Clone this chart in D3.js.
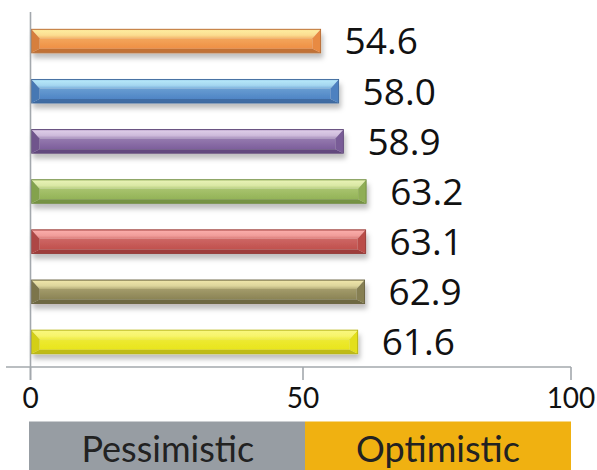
<!DOCTYPE html>
<html>
<head>
<meta charset="utf-8">
<script src="https://cdn.jsdelivr.net/npm/d3@7/dist/d3.min.js"></script>
<style>
  html, body { margin: 0; padding: 0; background: #ffffff; }
  svg { display: block; }
</style>
</head>
<body>
<svg id="chart" width="597" height="470"></svg>
<script>
// Rows of the chart, top to bottom
const categories = ["1", "2", "3", "4", "5", "6", "7"];
const values = [54.6, 58.0, 58.9, 63.2, 63.1, 62.9, 61.6];

// Bar palette: face colour, highlight, shade
const baseColors = ["#ef8f45", "#4f85c5", "#7d5f9c", "#93b357", "#c0504d", "#8a8355", "#e9e51b"];
const highlightColors = ["#fdeb9e", "#b4e6f8", "#dccbe6", "#e6f1b3", "#f9aba8", "#ece3a8", "#f9f77a"];
const shadeColors = ["#a8612c", "#375f91", "#553f6e", "#66823a", "#8a3432", "#5f5a38", "#a9a510"];

// Scale beneath the bars
const tickValues = [0, 50, 100];
const zoneLabels = ["Pessimistic", "Optimistic"];
const zoneBounds = [[0, 50], [50, 100]];
const zoneColors = ["#979da3", "#f0b111"];

const svg = d3.select("#chart");
const defs = svg.append("defs");

// soft drop shadow under each bar
const shadow = defs.append("filter").attr("id", "barShadow")
  .attr("x", "-5%").attr("y", "-30%").attr("width", "112%").attr("height", "190%");
shadow.append("feGaussianBlur").attr("in", "SourceAlpha").attr("stdDeviation", 2.6).attr("result", "b");
shadow.append("feOffset").attr("in", "b").attr("dx", 2).attr("dy", 5).attr("result", "o");
shadow.append("feFlood").attr("flood-color", "#000").attr("flood-opacity", 0.26).attr("result", "c");
shadow.append("feComposite").attr("in", "c").attr("in2", "o").attr("operator", "in").attr("result", "s");
const merge = shadow.append("feMerge");
merge.append("feMergeNode").attr("in", "s");
merge.append("feMergeNode").attr("in", "SourceGraphic");

// scales
const barX = d3.scaleLinear().domain([0, 100]).range([31.5, 561]);
const axisX = d3.scaleLinear().domain([0, 50, 100]).range([30.5, 303, 571]);
const y = d3.scaleBand().domain(categories).range([16, 367]).paddingInner(0.53).paddingOuter(0.265);

const mix = (a, b, t) => d3.interpolateRgb(a, b)(t);

// gradients for each bar
categories.forEach((c, i) => {
  const base = baseColors[i], hi = highlightColors[i];
  const top = defs.append("linearGradient").attr("id", "top" + i)
    .attr("x1", 0).attr("y1", 0).attr("x2", 0).attr("y2", 1);
  top.append("stop").attr("offset", "0%").attr("stop-color", mix(base, hi, 0.5));
  top.append("stop").attr("offset", "15%").attr("stop-color", hi);
  top.append("stop").attr("offset", "65%").attr("stop-color", mix(hi, base, 0.15));
  top.append("stop").attr("offset", "100%").attr("stop-color", mix(hi, base, 0.55));
  const face = defs.append("linearGradient").attr("id", "face" + i)
    .attr("x1", 0).attr("y1", 0).attr("x2", 0).attr("y2", 1);
  face.append("stop").attr("offset", "0%").attr("stop-color", mix(base, hi, 0.25));
  face.append("stop").attr("offset", "100%").attr("stop-color", base);
});

const bevelTop = 9, bevelBottom = 4, bevelSide = 8;
const poly = pts => "M" + pts.map(p => p.join(",")).join("L") + "Z";

const bars = svg.append("g").selectAll("g.bar")
  .data(values)
  .join("g")
  .attr("class", "bar")
  .attr("filter", "url(#barShadow)");

bars.each(function (v, i) {
  const g = d3.select(this);
  const x0 = barX(0), x1 = barX(v);
  const y0 = y(categories[i]), h = y.bandwidth(), y1 = y0 + h;
  const base = baseColors[i], sh = shadeColors[i];
  const ix0 = x0 + bevelSide, ix1 = x1 - bevelSide;
  const iy0 = y0 + bevelTop, iy1 = y1 - bevelBottom;

  // front face
  g.append("path").attr("d", poly([[ix0, iy0], [ix1, iy0], [ix1, iy1], [ix0, iy1]]))
    .attr("fill", `url(#face${i})`);
  // upper bevel
  g.append("path").attr("d", poly([[x0, y0], [x1, y0], [ix1, iy0], [ix0, iy0]]))
    .attr("fill", `url(#top${i})`);
  // lower bevel
  g.append("path").attr("d", poly([[x0, y1], [ix0, iy1], [ix1, iy1], [x1, y1]]))
    .attr("fill", mix(base, sh, 0.65));
  // left bevel
  g.append("path").attr("d", poly([[x0, y0], [ix0, iy0], [ix0, iy1], [x0, y1]]))
    .attr("fill", mix(base, sh, 0.35));
  // right bevel
  g.append("path").attr("d", poly([[x1, y0], [x1, y1], [ix1, iy1], [ix1, iy0]]))
    .attr("fill", mix(base, sh, 0.1));
  // outline
  g.append("rect").attr("x", x0).attr("y", y0).attr("width", x1 - x0).attr("height", h)
    .attr("fill", "none").attr("stroke", mix(base, sh, 0.8)).attr("stroke-width", 0.9);
});

// value labels
svg.append("g").selectAll("text")
  .data(values)
  .join("text")
  .attr("x", d => barX(d) + 24)
  .attr("y", (d, i) => y(categories[i]) + y.bandwidth() / 2)
  .attr("dy", "0.36em")
  .attr("font-family", "'Open Sans', sans-serif")
  .attr("font-size", 37)
  .attr("fill", "#111")
  .text(d => d.toFixed(1));

// vertical axis line
svg.append("line")
  .attr("x1", axisX(0)).attr("x2", axisX(0))
  .attr("y1", 12).attr("y2", 380)
  .attr("stroke", "#a3a8ad").attr("stroke-width", 1.6);

// horizontal axis with ticks below
const axisG = svg.append("g").attr("transform", "translate(0,367)");
axisG.append("line")
  .attr("x1", 6).attr("x2", axisX(100))
  .attr("stroke", "#a3a8ad").attr("stroke-width", 1.6);
axisG.selectAll("line.tick")
  .data(tickValues)
  .join("line")
  .attr("class", "tick")
  .attr("x1", d => axisX(d)).attr("x2", d => axisX(d))
  .attr("y1", 0).attr("y2", 13)
  .attr("stroke", "#a3a8ad").attr("stroke-width", 1.6);
axisG.selectAll("text")
  .data(tickValues)
  .join("text")
  .attr("x", d => axisX(d))
  .attr("y", 40.5)
  .attr("text-anchor", "middle")
  .attr("font-family", "Lato, sans-serif")
  .attr("font-size", 28)
  .attr("fill", "#111")
  .text(d => d);

// sentiment zones
const zones = svg.append("g");
zones.selectAll("rect")
  .data(zoneBounds)
  .join("rect")
  .attr("x", d => axisX(d[0]) - (d[0] === 0 ? 1.5 : -2))
  .attr("width", d => axisX(d[1]) - axisX(d[0]) + (d[0] === 0 ? 3.5 : -2))
  .attr("y", 421.5).attr("height", 60)
  .attr("fill", (d, i) => zoneColors[i]);
zones.selectAll("text")
  .data(zoneBounds)
  .join("text")
  .attr("x", d => (axisX(d[0]) + axisX(d[1])) / 2 + 1)
  .attr("y", 461.7)
  .attr("text-anchor", "middle")
  .attr("font-family", "Lato, sans-serif")
  .attr("font-size", 36)
  .attr("fill", "#222")
  .text((d, i) => zoneLabels[i]);
</script>
</body>
</html>
